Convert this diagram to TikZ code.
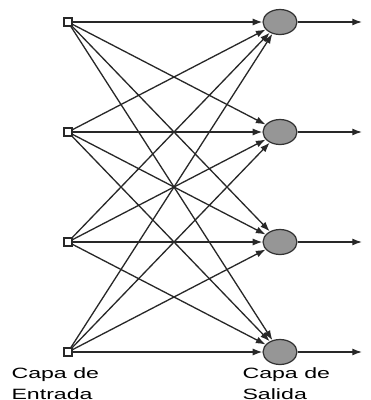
\documentclass[tikz,border=0pt]{standalone}
\usepackage{fontspec}
\setmainfont{Liberation Sans}
\usetikzlibrary{arrows.meta,positioning,shapes.geometric}
\definecolor{neuronGray}{RGB}{150,150,150}
\definecolor{wireGray}{RGB}{40,40,40}

\begin{document}
\begin{tikzpicture}[
  x=0.02cm, y=-0.02cm,
  font=\fontsize{8.5}{12}\selectfont,
  input/.style={draw=wireGray, fill=white, rectangle, minimum size=0.16cm,
    inner sep=0pt, line width=0.8pt},
  neuron/.style={draw=black!80, fill=neuronGray, ellipse, minimum width=0.68cm,
    minimum height=0.5cm, inner sep=0pt, line width=0.7pt},
  wire/.style={-{Latex[length=5.5pt,width=4pt]}, draw=wireGray, line width=0.75pt},
  layer/.style={align=left, inner sep=0pt, anchor=north west, xscale=1.55}
]
\useasboundingbox (0,0) rectangle (370,400);

% Nodes
\foreach \i/\y in {1/22,2/132,3/242,4/352}{
  \node[input] (x\i) at (68,\y) {};
  \node[neuron] (n\i) at (280,\y) {};
  \coordinate (o\i) at (362,\y);
}

% Connections
\foreach \i in {1,...,4}{
  \foreach \j in {1,...,4}{
    \draw[wire] (x\i) -- (n\j);
  }
  \draw[wire] (n\i) -- (o\i);
}

% Labels
\node[layer] (inlab) at (11,367) {Capa de\\Entrada};
\node[layer] (outlab) at (242,367) {Capa de\\Salida};
\end{tikzpicture}
\end{document}
